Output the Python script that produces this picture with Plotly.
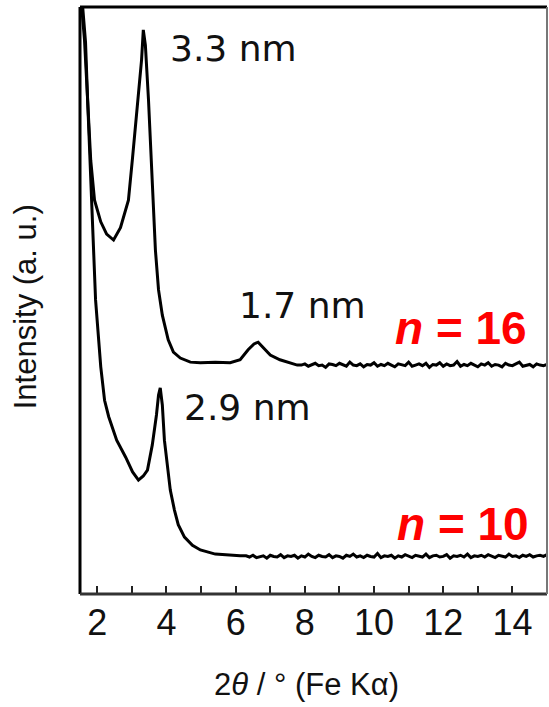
import plotly.graph_objects as go

# ---- data (2theta in degrees, intensity in arbitrary units) ----
x_n16_main = [1.52, 1.63, 1.72, 1.81, 1.92, 2.10, 2.27, 2.47, 2.67, 2.80, 2.90, 3.02, 3.10, 3.19,
              3.28, 3.33, 3.39, 3.48, 3.57, 3.62, 3.68, 3.77, 3.88, 4.05, 4.20, 4.40, 4.69, 4.98,
              5.41, 5.84, 6.13, 6.36, 6.53, 6.65, 6.80, 7.00, 7.28, 7.78]
y_n16_main = [102, 94.4, 84.2, 73.9, 67.1, 63.4, 61.3, 60.3, 62.4, 65.0, 67.1, 74.4, 79.6, 84.7,
              91.0, 96.1, 93.5, 84.2, 71.9, 64.6, 58.6, 51.8, 47.5, 43.3, 41.2, 40.2, 39.5, 39.4,
              39.5, 39.4, 39.9, 41.6, 42.6, 42.9, 41.9, 40.7, 39.9, 39.0]
x_n16_base = [7.9, 8.0, 8.1, 8.2, 8.3, 8.4, 8.5, 8.6, 8.7, 8.8, 8.9, 9.0, 9.1, 9.2, 9.3, 9.4, 9.5,
              9.6, 9.7, 9.8, 9.9, 10.0, 10.1, 10.2, 10.3, 10.4, 10.5, 10.6, 10.7, 10.8, 10.9, 11.0,
              11.1, 11.2, 11.3, 11.4, 11.5, 11.6, 11.7, 11.8, 11.9, 12.0, 12.1, 12.2, 12.3, 12.4,
              12.5, 12.6, 12.7, 12.8, 12.9, 13.0, 13.1, 13.2, 13.3, 13.4, 13.5, 13.6, 13.7, 13.8,
              13.9, 14.0, 14.1, 14.2, 14.3, 14.4, 14.5, 14.6, 14.7, 14.8, 14.9, 15.0]
y_n16_base = [39.0, 39.2, 38.8, 39.1, 39.3, 38.9, 39.0, 38.6, 39.2, 39.1,
              38.9, 39.3, 39.0, 38.8, 39.5, 39.0, 38.9, 39.2, 38.7, 39.1,
              39.0, 39.4, 38.8, 39.1, 38.9, 39.3, 39.0, 38.7, 39.2, 39.1,
              38.9, 39.5, 38.8, 39.0, 39.2, 38.9, 39.3, 38.6, 39.1, 39.0,
              39.4, 38.8, 39.2, 38.9, 39.0, 39.6, 38.8, 39.1, 38.9, 39.3,
              39.0, 38.7, 39.2, 39.0, 39.4, 38.8, 39.1, 39.0, 38.7, 39.3,
              39.0, 38.9, 39.2, 39.5, 38.8, 39.0, 39.1, 38.7, 39.2, 39.0,
              38.9, 39.1]

x_n10_main = [1.55, 1.66, 1.72, 1.81, 1.87, 1.95, 2.10, 2.21, 2.33, 2.56, 2.82, 3.02, 3.19, 3.33,
              3.45, 3.59, 3.71, 3.77, 3.82, 3.88, 3.94, 4.03, 4.11, 4.23, 4.34, 4.52, 4.75, 4.98,
              5.41, 6.13]
y_n10_main = [102, 94.0, 84.2, 70.5, 62.0, 50.1, 38.7, 33.0, 30.2, 26.2, 23.3, 20.8, 19.4, 20.1,
              21.1, 25.4, 30.5, 33.9, 35.1, 32.2, 26.2, 21.1, 17.7, 14.3, 11.8, 9.7, 8.3, 7.5,
              6.8, 6.5]
x_n10_base = [6.3, 6.4, 6.5, 6.6, 6.7, 6.8, 6.9, 7.0, 7.1, 7.2, 7.3, 7.4, 7.5, 7.6, 7.7, 7.8, 7.9,
              8.0, 8.1, 8.2, 8.3, 8.4, 8.5, 8.6, 8.7, 8.8, 8.9, 9.0, 9.1, 9.2, 9.3, 9.4, 9.5, 9.6,
              9.7, 9.8, 9.9, 10.0, 10.1, 10.2, 10.3, 10.4, 10.5, 10.6, 10.7, 10.8, 10.9, 11.0,
              11.1, 11.2, 11.3, 11.4, 11.5, 11.6, 11.7, 11.8, 11.9, 12.0, 12.1, 12.2, 12.3, 12.4,
              12.5, 12.6, 12.7, 12.8, 12.9, 13.0, 13.1, 13.2, 13.3, 13.4, 13.5, 13.6, 13.7, 13.8,
              13.9, 14.0, 14.1, 14.2, 14.3, 14.4, 14.5, 14.6, 14.7, 14.8, 14.9, 15.0]
y_n10_base = [6.5, 6.3, 6.6, 6.2, 6.4, 6.5, 6.1, 6.6, 6.4, 6.3,
              6.7, 6.2, 6.5, 6.4, 6.6, 6.1, 6.5, 6.3, 6.8, 6.4,
              6.2, 6.6, 6.4, 6.3, 6.7, 6.2, 6.5, 6.4, 6.1, 6.6,
              6.4, 6.8, 6.3, 6.5, 6.2, 6.6, 6.4, 6.3, 6.9, 6.2,
              6.5, 6.4, 6.6, 6.1, 6.5, 6.3, 6.7, 6.4, 6.2, 6.6,
              6.4, 6.3, 6.8, 6.2, 6.5, 6.6, 6.3, 6.4, 6.7, 6.1,
              6.5, 6.4, 6.6, 6.3, 6.8, 6.2, 6.5, 6.4, 6.6, 6.3,
              6.7, 6.4, 6.2, 6.6, 6.5, 6.3, 6.8, 6.4, 6.5, 6.2,
              6.6, 6.4, 6.7, 6.3, 6.5, 6.6, 6.4, 6.7]

tick_vals = [2, 3, 4, 5, 6, 7, 8, 9, 10, 11, 12, 13, 14]
tick_text = ["2", "", "4", "", "6", "", "8", "", "10", "", "12", "", "14"]

peak_labels = ["3.3 nm", "1.7 nm", "2.9 nm"]
peak_x = [4.03, 6.04, 4.46]
peak_y = [93.0, 49.1, 31.7]

series_names = ["<i>n</i> = 16", "<i>n</i> = 10"]
series_label_x = [14.49, 14.55]
series_label_y = [45.3, 11.9]

fig = go.Figure()
fig.add_trace(go.Scatter(x=x_n16_main + x_n16_base, y=y_n16_main + y_n16_base, mode="lines",
                         line=dict(color="black", width=3), showlegend=False, hoverinfo="skip"))
fig.add_trace(go.Scatter(x=x_n10_main + x_n10_base, y=y_n10_main + y_n10_base, mode="lines",
                         line=dict(color="black", width=3), showlegend=False, hoverinfo="skip"))

for t, xx, yy in zip(peak_labels, peak_x, peak_y):
    fig.add_annotation(x=xx, y=yy, text=t, showarrow=False, xanchor="left", yanchor="middle",
                       font=dict(family="DejaVu Sans", size=36, color="#111111"))
for t, xx, yy in zip(series_names, series_label_x, series_label_y):
    fig.add_annotation(x=xx, y=yy, text="<b>" + t + "</b>", showarrow=False, xanchor="right",
                       yanchor="middle",
                       font=dict(family="Liberation Sans, Arial", size=46, color="#ff0000"))

# axis titles
fig.add_annotation(xref="paper", yref="paper", x=0.486, y=-0.155, text="2<i>θ</i> / ° (Fe Kα)",
                   showarrow=False, xanchor="center", yanchor="middle",
                   font=dict(family="Liberation Sans, Arial", size=31, color="#111111"))
fig.add_annotation(xref="paper", yref="paper", x=-0.118, y=0.49, text="Intensity (a. u.)",
                   showarrow=False, textangle=-90, xanchor="center", yanchor="middle",
                   font=dict(family="Liberation Sans, Arial", size=31, color="#111111"))

# frame
fig.add_shape(type="line", xref="paper", yref="paper", x0=0, x1=0, y0=0, y1=1,
              line=dict(color="black", width=3))
fig.add_shape(type="line", xref="paper", yref="paper", x0=0, x1=1, y0=1, y1=1,
              line=dict(color="black", width=3))
fig.add_shape(type="line", xref="paper", yref="paper", x0=0, x1=1, y0=0, y1=0,
              line=dict(color="#333333", width=3))
fig.add_shape(type="line", xref="paper", yref="paper", x0=1, x1=1, y0=0, y1=1,
              line=dict(color="#777777", width=2))

fig.update_xaxes(range=[1.5, 15.0], tickmode="array", tickvals=tick_vals, ticktext=tick_text,
                 ticks="inside", ticklen=8, tickwidth=2, tickcolor="#222222",
                 showgrid=False, zeroline=False, showline=False, ticklabelstandoff=4,
                 tickfont=dict(family="Liberation Sans, Arial", size=36, color="#111111"))
fig.update_yaxes(range=[0, 100], showticklabels=False, ticks="", showgrid=False,
                 zeroline=False, showline=False)

fig.update_layout(width=549, height=707, margin=dict(l=80, r=2, t=7, b=113),
                  paper_bgcolor="white", plot_bgcolor="white", hovermode=False)

# remove the browser's default 8px body margin so the figure fills the window exactly
fig.write_html("out.html", config={"displayModeBar": False},
               post_script="document.body.style.margin='0';document.body.style.overflow='hidden';")
